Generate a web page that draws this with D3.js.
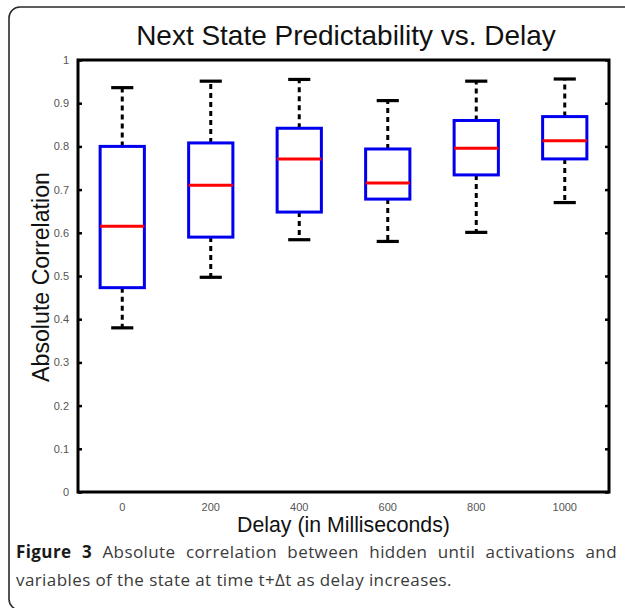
<!DOCTYPE html>
<html>
<head>
<meta charset="utf-8">
<script src="https://cdn.jsdelivr.net/npm/d3@7/dist/d3.min.js"></script>
<style>
  html, body { margin: 0; padding: 0; background: #fff; }
  svg { display: block; }
</style>
</head>
<body>
<svg id="chart" width="625" height="608"></svg>
<script>
// ---- data ----
const categories = ["0", "200", "400", "600", "800", "1000"];
const whiskerLow  = [0.380, 0.497, 0.584, 0.580, 0.601, 0.670];
const q1          = [0.473, 0.590, 0.648, 0.678, 0.734, 0.771];
const median      = [0.615, 0.710, 0.771, 0.715, 0.796, 0.813];
const q3          = [0.800, 0.808, 0.842, 0.794, 0.860, 0.869];
const whiskerHigh = [0.936, 0.951, 0.955, 0.906, 0.951, 0.956];
const yTicks = [0, 0.1, 0.2, 0.3, 0.4, 0.5, 0.6, 0.7, 0.8, 0.9, 1];
const yTickLabels = ["0", "0.1", "0.2", "0.3", "0.4", "0.5", "0.6", "0.7", "0.8", "0.9", "1"];
const titleText = "Next State Predictability vs. Delay";
const xLabelText = "Delay (in Milliseconds)";
const yLabelText = "Absolute Correlation";
const captionBold = "Figure 3";
const captionLine1 = "Absolute correlation between hidden until activations and";
const captionLine2 = "variables of the state at time t+\u0394t as delay increases.";

const data = categories.map((c, i) => ({
  cat: c, lo: whiskerLow[i], q1: q1[i], med: median[i], q3: q3[i], hi: whiskerHigh[i]
}));

const svg = d3.select("#chart");
const L = 78, R = 609, T = 60, B = 492;

// outer frame
svg.append("rect")
  .attr("x", 9).attr("y", 7).attr("width", 660).attr("height", 603)
  .attr("rx", 11).attr("ry", 11)
  .attr("fill", "none").attr("stroke", "#2a2a2a").attr("stroke-width", 1.6);

const x = d3.scaleBand().domain(categories).range([L, R]).padding(0);
const y = d3.scaleLinear().domain([0, 1]).range([B, T]);
const bw = x.bandwidth();
const cx = c => x(c) + bw / 2;

const g = svg.append("g");

// y axes (ticks inward)
const yl = g.append("g").attr("transform", `translate(${L},0)`)
  .call(d3.axisLeft(y).tickValues(yTicks).tickSize(-4).tickPadding(9)
    .tickFormat((d, i) => yTickLabels[i]));
yl.select(".domain").remove();
yl.selectAll(".tick line").attr("stroke", "#000").attr("stroke-width", 2.5);
yl.selectAll(".tick text").attr("font-family", "Liberation Sans, Arial, sans-serif")
  .attr("font-size", 11).attr("fill", "#555");

const yr = g.append("g").attr("transform", `translate(${R},0)`)
  .call(d3.axisRight(y).tickValues(yTicks).tickSize(-4).tickFormat(""));
yr.select(".domain").remove();
yr.selectAll(".tick line").attr("stroke", "#000").attr("stroke-width", 2.5);

// x axis labels
const xa = g.append("g").attr("transform", `translate(0,${B})`)
  .call(d3.axisBottom(x).tickSize(0).tickPadding(11));
xa.select(".domain").remove();
xa.selectAll(".tick text").attr("font-family", "Liberation Sans, Arial, sans-serif")
  .attr("font-size", 11).attr("fill", "#555");

// plot frame
g.append("rect").attr("x", L).attr("y", T).attr("width", R - L).attr("height", B - T)
  .attr("fill", "none").attr("stroke", "#000").attr("stroke-width", 3);

// boxes
const boxes = g.append("g").selectAll("g").data(data).join("g");
boxes.append("line")
  .attr("x1", d => cx(d.cat)).attr("x2", d => cx(d.cat))
  .attr("y1", d => y(d.q3)).attr("y2", d => y(d.hi))
  .attr("stroke", "#000").attr("stroke-width", 3).attr("stroke-dasharray", "5,4");
boxes.append("line")
  .attr("x1", d => cx(d.cat)).attr("x2", d => cx(d.cat))
  .attr("y1", d => y(d.q1)).attr("y2", d => y(d.lo))
  .attr("stroke", "#000").attr("stroke-width", 3).attr("stroke-dasharray", "5,4");
boxes.append("line")
  .attr("x1", d => cx(d.cat) - bw * 0.125).attr("x2", d => cx(d.cat) + bw * 0.125)
  .attr("y1", d => y(d.hi)).attr("y2", d => y(d.hi))
  .attr("stroke", "#000").attr("stroke-width", 3.2);
boxes.append("line")
  .attr("x1", d => cx(d.cat) - bw * 0.125).attr("x2", d => cx(d.cat) + bw * 0.125)
  .attr("y1", d => y(d.lo)).attr("y2", d => y(d.lo))
  .attr("stroke", "#000").attr("stroke-width", 3.2);
boxes.append("rect")
  .attr("x", d => cx(d.cat) - bw * 0.25).attr("width", bw * 0.5)
  .attr("y", d => y(d.q3)).attr("height", d => y(d.q1) - y(d.q3))
  .attr("fill", "#fff").attr("stroke", "#0000ee").attr("stroke-width", 3);
boxes.append("line")
  .attr("x1", d => cx(d.cat) - bw * 0.25).attr("x2", d => cx(d.cat) + bw * 0.25)
  .attr("y1", d => y(d.med)).attr("y2", d => y(d.med))
  .attr("stroke", "#ff0000").attr("stroke-width", 3);

function fit(sel, target) {
  const w = sel.node().getComputedTextLength();
  const fs = parseFloat(sel.attr("font-size"));
  sel.attr("font-size", fs * target / w);
}

// title
const title = svg.append("text").text(titleText)
  .attr("x", 346).attr("y", 45).attr("text-anchor", "middle")
  .attr("font-family", "Liberation Sans, Arial, sans-serif").attr("font-size", 28)
  .attr("fill", "#111");
fit(title, 420);

// x label
const xl = svg.append("text").text(xLabelText)
  .attr("x", 343.5).attr("y", 532).attr("text-anchor", "middle")
  .attr("font-family", "Liberation Sans, Arial, sans-serif").attr("font-size", 21)
  .attr("fill", "#111");
fit(xl, 213);

// y label
const ylab = svg.append("text").text(yLabelText)
  .attr("transform", `translate(49,${(T + B) / 2 + 1}) rotate(-90)`)
  .attr("text-anchor", "middle")
  .attr("font-family", "Liberation Sans, Arial, sans-serif").attr("font-size", 23)
  .attr("fill", "#111");
fit(ylab, 210);

// caption: fixed size, slightly tightened letters; line 1 justified
const capFont = "Open Sans, Noto Sans, sans-serif";
const capFs = 17;
const cap2 = svg.append("text").attr("x", 16).attr("y", 586)
  .attr("font-family", capFont).attr("font-size", capFs)
  .attr("fill", "#3a3a3a").text(captionLine2);
const w2 = cap2.node().getComputedTextLength();
const ls = (436 - w2) / captionLine2.length;
cap2.attr("letter-spacing", ls);

const cap1 = svg.append("text").attr("x", 16).attr("y", 558)
  .attr("font-family", capFont).attr("font-size", capFs).attr("fill", "#3a3a3a")
  .attr("letter-spacing", ls);
cap1.append("tspan").attr("font-weight", "bold").attr("fill", "#1a1a1a").text(captionBold);
cap1.append("tspan").text(" " + captionLine1);
const w1 = cap1.node().getComputedTextLength();
const nSpaces = (captionBold + " " + captionLine1).split(" ").length - 1;
cap1.attr("word-spacing", Math.max(0, (601 - w1) / nSpaces));
</script>
</body>
</html>
